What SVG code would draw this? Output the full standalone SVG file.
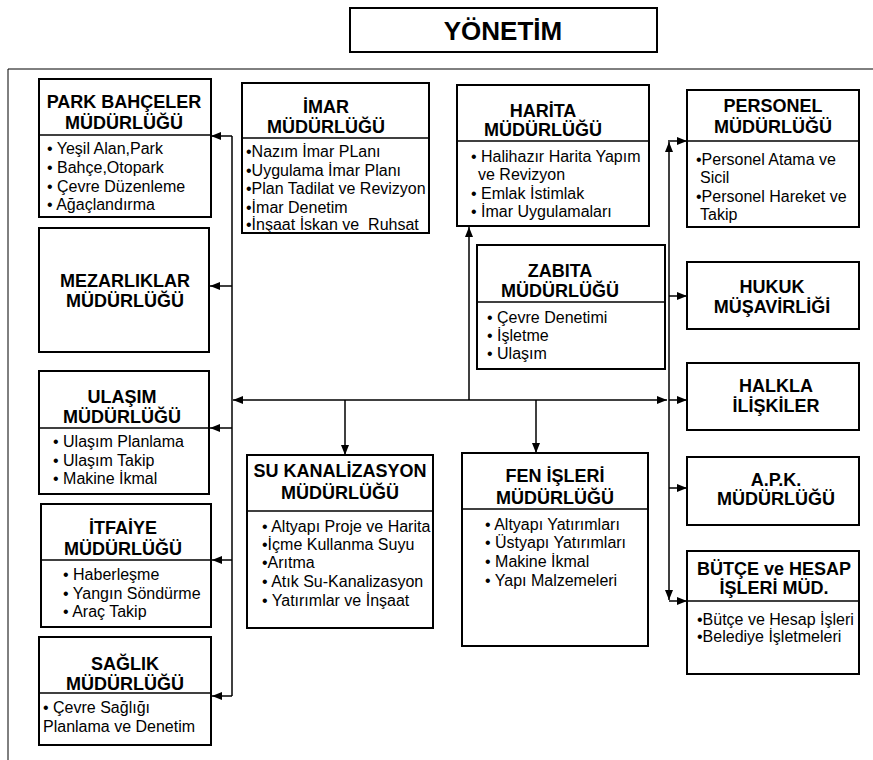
<svg xmlns="http://www.w3.org/2000/svg" width="873" height="760" viewBox="0 0 873 760">
<style>
  .box{fill:#fff;stroke:#000;stroke-width:2}
  .div{stroke:#000;stroke-width:1.3}
  .t{font-family:"Liberation Sans",Arial,sans-serif;font-weight:bold;font-size:18px;text-anchor:middle;fill:#000}
  .i{font-family:"Liberation Sans",Arial,sans-serif;font-size:16px;fill:#000}
  .c{fill:none;stroke:#000;stroke-width:1.5}
  .a{marker-end:url(#ah)}
</style>
<defs>
  <marker id="ah" markerUnits="userSpaceOnUse" markerWidth="11" markerHeight="8" refX="10" refY="4" orient="auto-start-reverse">
    <path d="M0,0 L10,4 L0,8 z" fill="#000"/>
  </marker>
</defs>
<rect width="873" height="760" fill="#fff"/>
<path d="M8,760 V69 H873" fill="none" stroke="#000" stroke-width="1"/>

<g id="yonetim">
  <rect x="350" y="8" width="307" height="44" class="box"/>
  <text x="503" y="40" class="t" style="font-size:26px">YÖNETİM</text>
</g>

<g id="connectors">
  <path class="c" d="M232,136 V696"/>
  <path class="c a" d="M232,136 H211"/>
  <path class="c a" d="M232,286 H210"/>
  <path class="c a" d="M232,428 H210"/>
  <path class="c a" d="M232,560 H212"/>
  <path class="c a" d="M232,696 H212"/>
  <path class="c" d="M233,400 H667" marker-start="url(#ah)" marker-end="url(#ah)"/>
  <path class="c a" d="M469,400 V227"/>
  <path class="c a" d="M345,400 V455"/>
  <path class="c a" d="M536,400 V453"/>
  <path class="c a" d="M669,400 V142"/>
  <path class="c a" d="M669,400 V600"/>
  <path class="c a" d="M668,141 H687"/>
  <path class="c a" d="M669,296 H687"/>
  <path class="c a" d="M669,400 H687"/>
  <path class="c a" d="M669,488 H687"/>
  <path class="c a" d="M669,601 H687"/>
</g>

<g id="park">
  <rect x="39" y="79" width="172" height="138" class="box"/>
  <line x1="39" y1="135" x2="211" y2="135" class="div"/>
  <text x="124" y="108" class="t">PARK BAHÇELER</text>
  <text x="124" y="129" class="t">MÜDÜRLÜĞÜ</text>
  <text x="47" y="154" class="i">• Yeşil Alan,Park</text>
  <text x="47" y="173" class="i">• Bahçe,Otopark</text>
  <text x="47" y="192" class="i">• Çevre Düzenleme</text>
  <text x="47" y="210" class="i">• Ağaçlandırma</text>
</g>

<g id="imar">
  <rect x="242" y="83" width="187" height="150" class="box"/>
  <line x1="242" y1="138" x2="430" y2="138" class="div"/>
  <text x="326" y="113" class="t">İMAR</text>
  <text x="326" y="133" class="t">MÜDÜRLÜĞÜ</text>
  <text x="246" y="157" class="i">•Nazım İmar PLanı</text>
  <text x="246" y="176" class="i">•Uygulama İmar Planı</text>
  <text x="246" y="194" class="i">•Plan Tadilat ve Revizyon</text>
  <text x="246" y="213" class="i">•İmar Denetim</text>
  <text x="246" y="230" class="i" xml:space="preserve">•İnşaat İskan ve  Ruhsat</text>
</g>

<g id="harita">
  <rect x="457" y="85" width="192" height="141" class="box"/>
  <line x1="457" y1="141" x2="650" y2="141" class="div"/>
  <text x="543" y="117" class="t">HARİTA</text>
  <text x="543" y="136" class="t">MÜDÜRLÜĞÜ</text>
  <text x="471" y="162" class="i">• Halihazır Harita Yapım</text>
  <text x="478" y="180" class="i">ve Revizyon</text>
  <text x="471" y="199" class="i">• Emlak İstimlak</text>
  <text x="471" y="217" class="i">• İmar Uygulamaları</text>
</g>

<g id="personel">
  <rect x="687" y="90" width="172" height="137" class="box"/>
  <line x1="687" y1="141" x2="860" y2="141" class="div"/>
  <text x="773" y="112" class="t">PERSONEL</text>
  <text x="773" y="133" class="t">MÜDÜRLÜĞÜ</text>
  <text x="696" y="165" class="i">•Personel Atama ve</text>
  <text x="700" y="183" class="i">Sicil</text>
  <text x="696" y="202" class="i">•Personel Hareket ve</text>
  <text x="700" y="220" class="i">Takip</text>
</g>

<g id="mezarliklar">
  <rect x="39" y="228" width="170" height="124" class="box"/>
  <text x="125" y="287" class="t">MEZARLIKLAR</text>
  <text x="125" y="307" class="t">MÜDÜRLÜĞÜ</text>
</g>

<g id="zabita">
  <rect x="477" y="245" width="188" height="124" class="box"/>
  <line x1="477" y1="302" x2="665" y2="302" class="div"/>
  <text x="560" y="277" class="t">ZABITA</text>
  <text x="560" y="297" class="t">MÜDÜRLÜĞÜ</text>
  <text x="487" y="323" class="i">• Çevre Denetimi</text>
  <text x="487" y="341" class="i">• İşletme</text>
  <text x="487" y="359" class="i">• Ulaşım</text>
</g>

<g id="hukuk">
  <rect x="687" y="262" width="172" height="67" class="box"/>
  <text x="772" y="293" class="t">HUKUK</text>
  <text x="772" y="313" class="t">MÜŞAVİRLİĞİ</text>
</g>

<g id="halkla">
  <rect x="687" y="363" width="172" height="67" class="box"/>
  <text x="776" y="392" class="t">HALKLA</text>
  <text x="776" y="412" class="t">İLİŞKİLER</text>
</g>

<g id="apk">
  <rect x="687" y="457" width="172" height="68" class="box"/>
  <text x="776" y="486" class="t">A.P.K.</text>
  <text x="776" y="505" class="t">MÜDÜRLÜĞÜ</text>
</g>

<g id="ulasim">
  <rect x="39" y="371" width="170" height="123" class="box"/>
  <line x1="39" y1="428" x2="209" y2="428" class="div"/>
  <text x="122" y="403" class="t">ULAŞIM</text>
  <text x="122" y="423" class="t">MÜDÜRLÜĞÜ</text>
  <text x="53" y="447" class="i">• Ulaşım Planlama</text>
  <text x="53" y="466" class="i">• Ulaşım Takip</text>
  <text x="53" y="484" class="i">• Makine İkmal</text>
</g>

<g id="itfaiye">
  <rect x="41" y="504" width="170" height="123" class="box"/>
  <line x1="41" y1="560" x2="211" y2="560" class="div"/>
  <text x="123" y="534" class="t">İTFAİYE</text>
  <text x="123" y="555" class="t">MÜDÜRLÜĞÜ</text>
  <text x="63" y="580" class="i">• Haberleşme</text>
  <text x="63" y="599" class="i">• Yangın Söndürme</text>
  <text x="63" y="617" class="i">• Araç Takip</text>
</g>

<g id="saglik">
  <rect x="39" y="637" width="172" height="108" class="box"/>
  <line x1="39" y1="693" x2="211" y2="693" class="div"/>
  <text x="125" y="670" class="t">SAĞLIK</text>
  <text x="125" y="690" class="t">MÜDÜRLÜĞÜ</text>
  <text x="43" y="713" class="i">• Çevre Sağlığı</text>
  <text x="43" y="732" class="i">Planlama ve Denetim</text>
</g>

<g id="su-kanalizasyon">
  <rect x="247" y="455" width="186" height="173" class="box"/>
  <line x1="247" y1="511" x2="434" y2="511" class="div"/>
  <text x="340" y="477" class="t">SU KANALİZASYON</text>
  <text x="340" y="499" class="t">MÜDÜRLÜĞÜ</text>
  <text x="262" y="532" class="i">• Altyapı Proje ve Harita</text>
  <text x="262" y="550" class="i">•İçme Kullanma Suyu</text>
  <text x="262" y="568" class="i">•Arıtma</text>
  <text x="262" y="587" class="i">• Atık Su-Kanalizasyon</text>
  <text x="262" y="606" class="i">• Yatırımlar ve İnşaat</text>
</g>

<g id="fen-isleri">
  <rect x="462" y="453" width="186" height="193" class="box"/>
  <line x1="462" y1="509" x2="649" y2="509" class="div"/>
  <text x="555" y="482" class="t">FEN İŞLERİ</text>
  <text x="555" y="504" class="t">MÜDÜRLÜĞÜ</text>
  <text x="485" y="530" class="i">• Altyapı Yatırımları</text>
  <text x="485" y="548" class="i">• Üstyapı Yatırımları</text>
  <text x="485" y="567" class="i">• Makine İkmal</text>
  <text x="485" y="586" class="i">• Yapı Malzemeleri</text>
</g>

<g id="butce">
  <rect x="687" y="551" width="172" height="123" class="box"/>
  <line x1="687" y1="601" x2="860" y2="601" class="div"/>
  <text x="774" y="575" class="t">BÜTÇE ve HESAP</text>
  <text x="774" y="594" class="t">İŞLERİ MÜD.</text>
  <text x="697" y="625" class="i">•Bütçe ve Hesap İşleri</text>
  <text x="697" y="642" class="i">•Belediye İşletmeleri</text>
</g>
</svg>
